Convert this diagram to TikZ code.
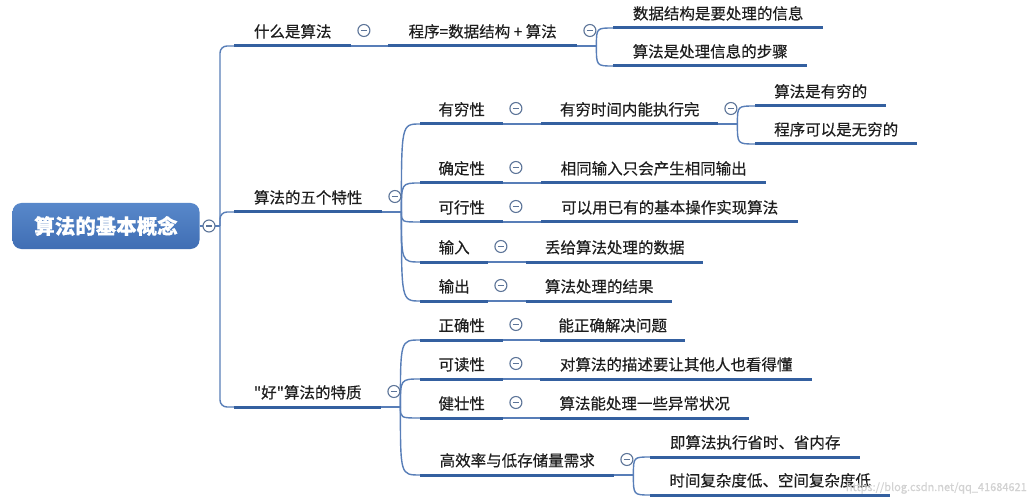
\documentclass[tikz,border=0pt]{standalone}
\usepackage{fontspec}
\setmainfont{Noto Sans CJK SC}[Ligatures=TeXOff, FakeBold=0.35]
\usepackage{tikz}
\usetikzlibrary{positioning}
\definecolor{lineblue}{RGB}{52,96,160}
\definecolor{connblue}{RGB}{88,126,184}
\definecolor{foldgray}{RGB}{92,116,152}
\definecolor{roottop}{RGB}{88,136,202}
\definecolor{rootbot}{RGB}{64,110,180}
\definecolor{textdark}{RGB}{30,30,30}
\tikzset{
  topic/.style={anchor=south west, inner xsep=2pt, inner ysep=5.5pt, text height=12pt, text depth=3pt,
    align=center, text=textdark, font=\fontsize{15.5}{18}\selectfont},
  uline/.style={draw=lineblue, line width=3pt},
  conn/.style={draw=connblue, line width=1.4pt},
  fold/.style={circle, draw=foldgray, fill=white, line width=1.1pt, minimum size=12pt, inner sep=0pt,
    path picture={\draw[foldgray, line width=1.1pt] ([xshift=-3pt]path picture bounding box.center) -- ([xshift=3pt]path picture bounding box.center);}},
  rootbox/.style={rounded corners=9pt, top color=roottop, bottom color=rootbot, draw=none,
    minimum width=187pt, minimum height=46pt, text=white, font=\fontsize{20.5}{24}\selectfont\bfseries},
  wmark/.style={text=gray!35, font=\fontsize{11}{12}\selectfont, inner sep=0pt}
}
\begin{document}
\begin{tikzpicture}[x=1pt, y=-1pt]
	\fill[white] (0,0) rectangle (1029,500);
	\useasboundingbox (0,0) rectangle (1029,500);
	% root
	\node[rootbox] (root) at (106,226) {算法的基本概念};
	\coordinate (br) at (220,226);
	% level 1
	\node[topic, minimum width=117pt] (wsf) at (234,46) {什么是算法};
	\node[topic, minimum width=148pt] (five) at (234,212) {算法的五个特性};
	\node[topic, minimum width=147pt] (good) at (234,407) {"好"算法的特质};
	% 什么是算法
	\node[topic, minimum width=189pt] (prog) at (388,46) {程序=数据结构 + 算法};
	\node[topic, minimum width=210pt] (ds) at (613,28) {数据结构是要处理的信息};
	\node[topic, minimum width=194pt] (alg) at (613,66) {算法是处理信息的步骤};
	% 五个特性
	\node[topic, minimum width=83pt] (fin) at (420,124) {有穷性};
	\node[topic, minimum width=177pt] (finT) at (541,124) {有穷时间内能执行完};
	\node[topic, minimum width=131pt] (finA) at (755,106) {算法是有穷的};
	\node[topic, minimum width=162pt] (finP) at (755,144) {程序可以是无穷的};
	\node[topic, minimum width=83pt] (det) at (420,183) {确定性};
	\node[topic, minimum width=225pt] (detT) at (541,183) {相同输入只会产生相同输出};
	\node[topic, minimum width=83pt] (feas) at (420,222) {可行性};
	\node[topic, minimum width=257pt] (feasT) at (541,222) {可以用已有的基本操作实现算法};
	\node[topic, minimum width=68pt] (inp) at (420,262) {输入};
	\node[topic, minimum width=177pt] (inpT) at (526,262) {丢给算法处理的数据};
	\node[topic, minimum width=68pt] (outp) at (420,301) {输出};
	\node[topic, minimum width=146pt] (outpT) at (526,301) {算法处理的结果};
	% 好算法的特质
	\node[topic, minimum width=83pt] (corr) at (420,340) {正确性};
	\node[topic, minimum width=145pt] (corrT) at (540,340) {能正确解决问题};
	\node[topic, minimum width=83pt] (read) at (420,379) {可读性};
	\node[topic, minimum width=272pt] (readT) at (540,379) {对算法的描述要让其他人也看得懂};
	\node[topic, minimum width=83pt] (rob) at (420,418) {健壮性};
	\node[topic, minimum width=209pt] (robT) at (540,418) {算法能处理一些异常状况};
	\node[topic, minimum width=194pt] (eff) at (420,475) {高效率与低存储量需求};
	\node[topic, minimum width=210pt] (effA) at (650,457) {即算法执行省时、省内存};
	\node[topic, minimum width=240pt] (effB) at (650,495) {时间复杂度低、空间复杂度低};
	% watermark
	\node[wmark, anchor=east] (wm) at (1027,488) {https://blog.csdn.net/qq\_41684621};
	% connectors
	\draw[conn] (root.east) -- (br);
	\foreach \n in {wsf,five,good}
		\draw[conn, rounded corners=7pt] (br) |- (\n.south west);
	\foreach \a/\b in {wsf/prog,fin/finT,det/detT,feas/feasT,inp/inpT,outp/outpT,corr/corrT,read/readT,rob/robT}
		\draw[conn] (\a.south east) -- (\b.south west);
	\foreach \a/\kids in {prog/{ds,alg},five/{fin,det,feas,inp,outp},finT/{finA,finP},good/{corr,read,rob,eff},eff/{effA,effB}}{
		\coordinate (b-\a) at ([xshift=19pt]\a.south east);
		\draw[conn] (\a.south east) -- (b-\a);
		\foreach \k in \kids
			\draw[conn] (b-\a) .. controls (b-\a |- \k.south west) .. (\k.south west);
	}
	% underlines
	\foreach \n in {wsf,five,good,prog,ds,alg,fin,finT,finA,finP,det,detT,feas,feasT,inp,inpT,outp,outpT,corr,corrT,read,readT,rob,robT,eff,effA,effB}
		\draw[uline] (\n.south west) -- (\n.south east);
	% fold buttons
	\node[fold] (f-root) at (209,226) {};
	\foreach \n in {wsf,five,good,prog,fin,finT,det,feas,inp,outp,corr,read,rob,eff}
		\node[fold] (f-\n) at ([shift={(12.5,-15.5)}]\n.south east) {};
\end{tikzpicture}
\end{document}
